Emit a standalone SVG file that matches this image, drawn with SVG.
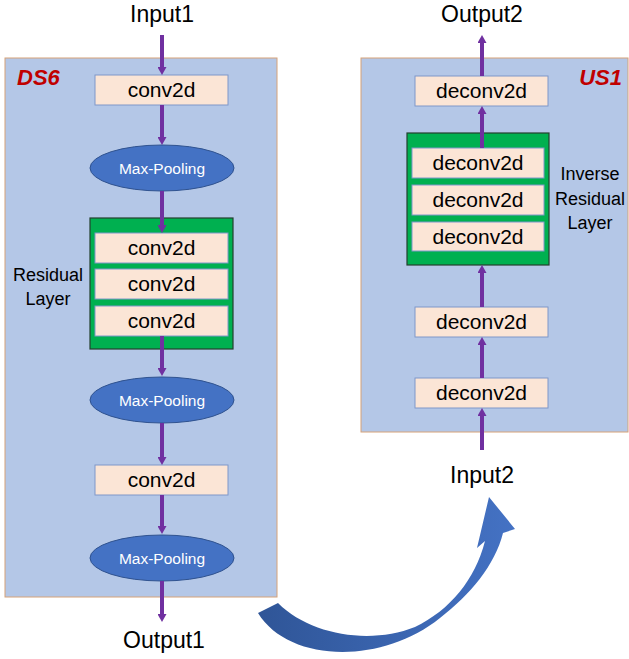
<svg xmlns="http://www.w3.org/2000/svg" width="629" height="659" viewBox="0 0 629 659">
<style>
text{font-family:"Liberation Sans",Arial,sans-serif;fill:#000}
.panel{fill:#B4C7E7;stroke:#D6A278;stroke-width:1}
.box{fill:#FBE5D6;stroke:#7F97C9;stroke-width:1}
.grn{fill:#00B050;stroke:#24402E;stroke-width:1.2}
.ell{fill:#4472C4;stroke:#2F528F;stroke-width:1}
.lbl{font-size:21px;text-anchor:middle}
.mp{font-size:15.5px;fill:#fff;text-anchor:middle}
.io{font-size:23px;text-anchor:middle}
.side{font-size:18px;text-anchor:middle}
.tag{font-size:22px;font-weight:bold;font-style:italic;fill:#C00000}
.con path{stroke:#7030A0;stroke-width:4;fill:none;marker-end:url(#ah)}
</style>
<defs>
<marker id="ah" markerUnits="userSpaceOnUse" markerWidth="9" markerHeight="9" refX="2" refY="4.5" orient="auto">
<path d="M0,0 L8,4.5 L0,9 z" fill="#7030A0"/>
</marker>
<linearGradient id="bg" x1="0" y1="0" x2="1" y2="0">
<stop offset="0" stop-color="#2F5597"/>
<stop offset="1" stop-color="#4472C4"/>
</linearGradient>
</defs>

<g id="DS6">
<rect class="panel" x="5" y="58" width="272" height="539"/>
<text class="tag" x="17" y="85">DS6</text>
</g>
<g id="US1">
<rect class="panel" x="361" y="58" width="267" height="374"/>
<text class="tag" x="622" y="85" text-anchor="end">US1</text>
</g>

<g id="input1"><text class="io" x="162" y="22">Input1</text></g>
<g id="output1"><text class="io" x="164" y="648">Output1</text></g>
<g id="output2"><text class="io" x="482" y="22">Output2</text></g>
<g id="input2"><text class="io" x="482" y="483">Input2</text></g>

<g id="ds_conv1"><rect class="box" x="95" y="75" width="133" height="30"/><text class="lbl" x="161.5" y="97">conv2d</text></g>
<g id="ds_pool1"><ellipse class="ell" cx="162" cy="168" rx="72" ry="23"/><text class="mp" x="162" y="173.5">Max-Pooling</text></g>
<g id="ds_res">
<rect class="grn" x="90" y="218" width="143" height="131"/>
<rect class="box" x="95" y="233" width="133" height="30"/><text class="lbl" x="161.5" y="255">conv2d</text>
<rect class="box" x="95" y="269" width="133" height="30"/><text class="lbl" x="161.5" y="291">conv2d</text>
<rect class="box" x="95" y="306" width="133" height="30"/><text class="lbl" x="161.5" y="328">conv2d</text>
<text class="side" x="48" y="281">Residual</text>
<text class="side" x="48" y="305">Layer</text>
</g>
<g id="ds_pool2"><ellipse class="ell" cx="162" cy="400" rx="72" ry="23"/><text class="mp" x="162" y="405.5">Max-Pooling</text></g>
<g id="ds_conv2"><rect class="box" x="95" y="465" width="133" height="30"/><text class="lbl" x="161.5" y="487">conv2d</text></g>
<g id="ds_pool3"><ellipse class="ell" cx="162" cy="558" rx="72" ry="23"/><text class="mp" x="162" y="563.5">Max-Pooling</text></g>

<g id="us_deconv_top"><rect class="box" x="415" y="76" width="133" height="30"/><text class="lbl" x="481.5" y="98">deconv2d</text></g>
<g id="us_res">
<rect class="grn" x="407" y="133" width="142" height="132"/>
<rect class="box" x="412" y="148" width="132" height="30"/><text class="lbl" x="478" y="170">deconv2d</text>
<rect class="box" x="412" y="185" width="132" height="30"/><text class="lbl" x="478" y="207">deconv2d</text>
<rect class="box" x="412" y="222" width="132" height="29"/><text class="lbl" x="478" y="244">deconv2d</text>
<text class="side" x="590" y="180">Inverse</text>
<text class="side" x="590" y="205">Residual</text>
<text class="side" x="590" y="229">Layer</text>
</g>
<g id="us_deconv2"><rect class="box" x="415" y="307" width="133" height="30"/><text class="lbl" x="481.5" y="329">deconv2d</text></g>
<g id="us_deconv3"><rect class="box" x="415" y="378" width="133" height="30"/><text class="lbl" x="481.5" y="400">deconv2d</text></g>

<g id="connectors" class="con">
<path d="M162,35 V69"/>
<path d="M162,105 V139"/>
<path d="M162,191 V227"/>
<path d="M162,336 V370"/>
<path d="M162,423 V459"/>
<path d="M162,495 V528"/>
<path d="M162,581 V616"/>
<path d="M482,76 V41"/>
<path d="M482,148 V112"/>
<path d="M482,307 V271"/>
<path d="M482,378 V343"/>
<path d="M482,450 V414"/>
</g>

<g id="transfer_arrow">
<path d="M258,613 C288,662 380,666 440,618 C470,595 495,565 503,533 L515,529 L489,497 L477,548 L485,541 C475,580 450,610 415,627 C370,645 310,635 278,603 Z" fill="url(#bg)"/>
</g>
</svg>
